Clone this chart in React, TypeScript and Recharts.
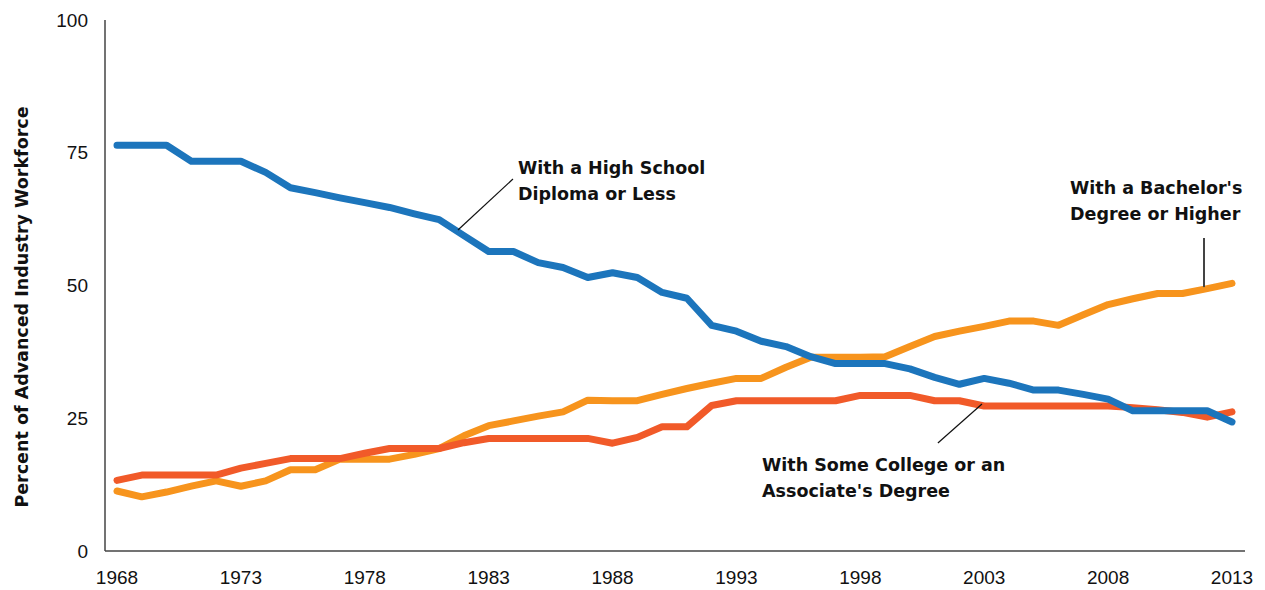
import React from "react";
import {
  LineChart,
  Line,
  XAxis,
  YAxis,
  ReferenceLine,
} from "recharts";

const years = [
  1968, 1969, 1970, 1971, 1972, 1973, 1974, 1975, 1976, 1977,
  1978, 1979, 1980, 1981, 1982, 1983, 1984, 1985, 1986, 1987,
  1988, 1989, 1990, 1991, 1992, 1993, 1994, 1995, 1996, 1997,
  1998, 1999, 2000, 2001, 2002, 2003, 2004, 2005, 2006, 2007,
  2008, 2009, 2010, 2011, 2012, 2013,
];

const highSchool = [
  76.4, 76.4, 76.4, 73.4, 73.4, 73.4, 71.3, 68.4, 67.5, 66.5,
  65.6, 64.7, 63.5, 62.4, 59.4, 56.4, 56.4, 54.3, 53.4, 51.5,
  52.4, 51.5, 48.7, 47.6, 42.5, 41.4, 39.5, 38.5, 36.6, 35.3,
  35.3, 35.3, 34.3, 32.7, 31.4, 32.5, 31.6, 30.3, 30.3, 29.5,
  28.6, 26.4, 26.4, 26.4, 26.4, 24.3,
];

const bachelors = [
  11.3, 10.2, 11.1, 12.2, 13.2, 12.2, 13.2, 15.3, 15.3, 17.3,
  17.3, 17.3, 18.2, 19.3, 21.7, 23.6, 24.5, 25.4, 26.2, 28.4,
  28.3, 28.3, 29.5, 30.6, 31.6, 32.5, 32.5, 34.6, 36.5, 36.5,
  36.5, 36.6, 38.5, 40.4, 41.4, 42.3, 43.3, 43.3, 42.5, 44.5,
  46.4, 47.5, 48.5, 48.5, 49.4, 50.4,
];

const someCollege = [
  13.3, 14.3, 14.3, 14.3, 14.3, 15.6, 16.5, 17.4, 17.4, 17.4,
  18.4, 19.3, 19.3, 19.3, 20.4, 21.2, 21.2, 21.2, 21.2, 21.2,
  20.3, 21.4, 23.4, 23.4, 27.4, 28.3, 28.3, 28.3, 28.3, 28.3,
  29.3, 29.3, 29.3, 28.3, 28.3, 27.3, 27.3, 27.3, 27.3, 27.3,
  27.3, 27.0, 26.6, 26.1, 25.2, 26.2,
];

const xTicks = [1968, 1973, 1978, 1983, 1988, 1993, 1998, 2003, 2008, 2013];
const yTicks = [0, 25, 50, 75, 100];

const data = years.map((year, i) => ({
  year,
  highSchool: highSchool[i],
  bachelors: bachelors[i],
  someCollege: someCollege[i],
}));

const tickFont = {
  fontSize: 19,
  fill: "#111",
  fontFamily: "'Liberation Sans', Arial, sans-serif",
};

const noteStyle: React.CSSProperties = {
  position: "absolute",
  fontFamily: "'DejaVu Sans', sans-serif",
  fontWeight: "bold",
  fontSize: 17.5,
  lineHeight: "26px",
  color: "#111",
  whiteSpace: "nowrap",
};

export default function App() {
  return (
    <div
      style={{
        position: "absolute",
        left: 0,
        top: 0,
        width: 1265,
        height: 590,
        background: "#fff",
      }}
    >
      <LineChart
        width={1265}
        height={590}
        data={data}
        margin={{ top: 20, right: 20, bottom: 0, left: 0 }}
      >
        <XAxis
          dataKey="year"
          type="number"
          domain={[1968, 2013]}
          ticks={xTicks}
          padding={{ left: 12, right: 13 }}
          height={39}
          tickLine={false}
          tickSize={0}
          tickMargin={20}
          axisLine={{ stroke: "#444", strokeWidth: 1.5 }}
          tick={tickFont}
        />
        <YAxis
          domain={[0, 100]}
          ticks={yTicks}
          width={105}
          tickLine={false}
          tickSize={0}
          tickMargin={17}
          axisLine={{ stroke: "#444", strokeWidth: 1.5 }}
          tick={tickFont}
        />
        <Line
          type="linear"
          dataKey="bachelors"
          stroke="#f7941d"
          strokeWidth={7}
          strokeLinecap="round"
          strokeLinejoin="round"
          dot={false}
          isAnimationActive={false}
        />
        <Line
          type="linear"
          dataKey="someCollege"
          stroke="#f15a29"
          strokeWidth={7}
          strokeLinecap="round"
          strokeLinejoin="round"
          dot={false}
          isAnimationActive={false}
        />
        <Line
          type="linear"
          dataKey="highSchool"
          stroke="#1c75bc"
          strokeWidth={7}
          strokeLinecap="round"
          strokeLinejoin="round"
          dot={false}
          isAnimationActive={false}
        />
        <ReferenceLine
          segment={[
            { x: 1981.76, y: 60.45 },
            { x: 1983.98, y: 70.06 },
          ]}
          stroke="#111"
          strokeWidth={1.2}
        />
        <ReferenceLine
          segment={[
            { x: 2011.87, y: 58.95 },
            { x: 2011.87, y: 49.7 },
          ]}
          stroke="#444"
          strokeWidth={2}
        />
        <ReferenceLine
          segment={[
            { x: 2001.13, y: 20.34 },
            { x: 2002.91, y: 27.68 },
          ]}
          stroke="#111"
          strokeWidth={1.2}
        />
      </LineChart>

      <div
        style={{
          position: "absolute",
          left: 22,
          top: 307,
          transform: "translate(-50%, -50%) rotate(-90deg)",
          fontFamily: "'DejaVu Sans', sans-serif",
          fontWeight: "bold",
          fontSize: 17.5,
          color: "#111",
          whiteSpace: "nowrap",
        }}
      >
        Percent of Advanced Industry Workforce
      </div>

      <div style={{ ...noteStyle, left: 518, top: 155 }}>
        With a High School
        <br />
        Diploma or Less
      </div>
      <div style={{ ...noteStyle, left: 1070, top: 175 }}>
        With a Bachelor's
        <br />
        Degree or Higher
      </div>
      <div style={{ ...noteStyle, left: 762, top: 452 }}>
        With Some College or an
        <br />
        Associate's Degree
      </div>
    </div>
  );
}
